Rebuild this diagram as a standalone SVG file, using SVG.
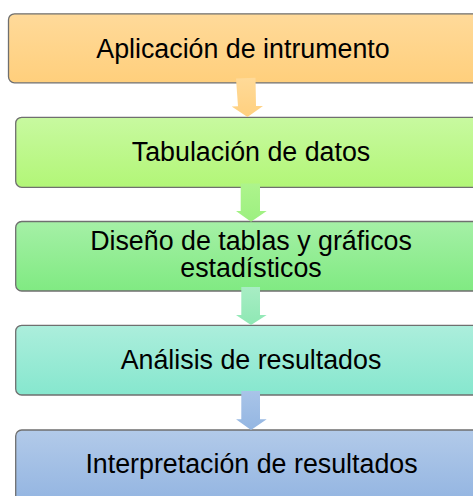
<svg xmlns="http://www.w3.org/2000/svg" width="473" height="496" viewBox="0 0 473 496">
<defs>
<linearGradient id="g1" x1="0" y1="0" x2="0" y2="1"><stop offset="0" stop-color="#FFDA9A"/><stop offset="1" stop-color="#FFCF7C"/></linearGradient>
<linearGradient id="g2" x1="0" y1="0" x2="0" y2="1"><stop offset="0" stop-color="#C8F9A0"/><stop offset="1" stop-color="#B2F677"/></linearGradient>
<linearGradient id="g3" x1="0" y1="0" x2="0" y2="1"><stop offset="0" stop-color="#A5F0A6"/><stop offset="1" stop-color="#80EA82"/></linearGradient>
<linearGradient id="g4" x1="0" y1="0" x2="0" y2="1"><stop offset="0" stop-color="#ACEEDC"/><stop offset="1" stop-color="#86E7CE"/></linearGradient>
<linearGradient id="g5" x1="0" y1="0" x2="0" y2="1"><stop offset="0" stop-color="#B2CAE9"/><stop offset="1" stop-color="#92B4E1"/></linearGradient>
<linearGradient id="a1" x1="0" y1="0" x2="0" y2="1"><stop offset="0" stop-color="#FFDA98"/><stop offset="1" stop-color="#FFD07F"/></linearGradient>
<linearGradient id="a2" x1="0" y1="0" x2="0" y2="1"><stop offset="0" stop-color="#AEF48C"/><stop offset="1" stop-color="#9CF080"/></linearGradient>
<linearGradient id="a3" x1="0" y1="0" x2="0" y2="1"><stop offset="0" stop-color="#A8EDC4"/><stop offset="1" stop-color="#8EE8B4"/></linearGradient>
<linearGradient id="a4" x1="0" y1="0" x2="0" y2="1"><stop offset="0" stop-color="#A8C4E8"/><stop offset="1" stop-color="#94B6E2"/></linearGradient>
</defs>
<style>
.box{stroke:#6F6F6F;stroke-width:1.3}
.t{font-family:"Liberation Sans",Arial,sans-serif;font-size:26.8px;fill:#000;text-anchor:middle}
</style>
<g id="n1"><rect class="box" x="8.5" y="13.8" width="475" height="69" rx="6" fill="url(#g1)"/><text class="t" x="243" y="57.5">Aplicación de intrumento</text></g>
<g id="n2"><rect class="box" x="15.7" y="117.3" width="475" height="70" rx="6" fill="url(#g2)"/><text class="t" x="251" y="160.5">Tabulación de datos</text></g>
<g id="n3"><rect class="box" x="15.7" y="221.5" width="475" height="69.5" rx="6" fill="url(#g3)"/><text class="t" x="251" y="250">Diseño de tablas y gráficos</text><text class="t" x="251" y="276.5">estadísticos</text></g>
<g id="n4"><rect class="box" x="15.7" y="325.3" width="475" height="69.7" rx="6" fill="url(#g4)"/><text class="t" x="251" y="369">Análisis de resultados</text></g>
<g id="n5"><rect class="box" x="15.7" y="430" width="475" height="75" rx="6" fill="url(#g5)"/><text class="t" x="251.5" y="472.5">Interpretación de resultados</text></g>
<g id="connectors">
<polygon points="236,78.5 255.5,77.8 256,106 263,106 247.5,117 231.7,106.5 238,106.3" fill="url(#a1)"/>
<polygon points="240.7,183.5 260,183.5 260,211 266.7,211 251,221.7 236,211 240.7,211" fill="url(#a2)"/>
<polygon points="241.3,287 260,287 260,315 266.7,315 251,325 236,315 241.3,315" fill="url(#a3)"/>
<polygon points="241.3,391 260,391 260,419.3 266.7,419.3 251,430 236,419.3 241.3,419.3" fill="url(#a4)"/>
</g>
</svg>
